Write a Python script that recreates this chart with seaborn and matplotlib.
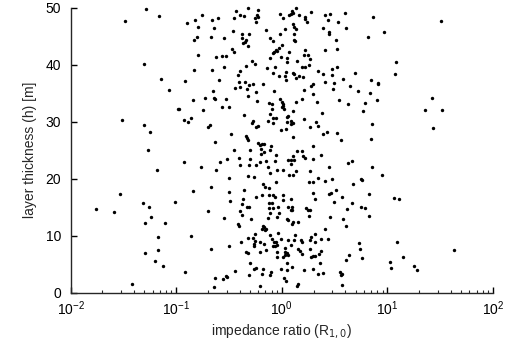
import numpy as np
import pandas as pd
import matplotlib

matplotlib.use("Agg")
import matplotlib.pyplot as plt
import matplotlib.ticker as ticker
import seaborn as sns

# values, grouped by region of the plot
# x is stored as log10 of the impedance ratio, y is layer thickness in m

# left strip (ratio < ~0.1)
lr_left = [-1.290, -1.167, -1.489, -1.306, -1.145, -1.066, -1.517, -1.309, -1.252,
           -1.268, -1.180, -1.533, -1.764, -1.593, -1.318, -1.258, -1.243, -1.293,
           -1.110, -1.176, -1.296, -1.173, -1.198, -1.129, -1.419]
h_left = [49.83, 48.54, 47.66, 40.06, 37.43, 35.62, 30.36, 29.48, 28.25,
          25.10, 21.47, 17.26, 14.63, 14.16, 15.79, 15.03, 13.28, 12.29,
          12.17, 9.77, 6.91, 7.43, 5.56, 4.74, 1.53]

# 0.1 .. 1, upper third
lr_a = [-0.321, -0.438, -0.226, -0.397, -0.356, -0.239, -0.226, -0.252, -0.760, -0.823,
        -0.665, -0.602, -0.457, -0.896, -0.242, -0.798, -0.646, -0.154, -0.466, -0.375,
        -0.311, -0.804, -0.832, -0.671, -0.548, -0.378, -0.340, -0.352, -0.371, -0.318,
        -0.109, -0.084, -0.469, -0.457, -0.078, -0.087, -0.794, -0.627, -0.570, -0.529,
        -0.112, -0.286, -0.258, -0.343, -0.551, -0.832, -0.665, -0.144, -0.068, -0.400,
        -0.419, -0.081, -0.592, -0.914, -0.406, -0.352, -0.447, -0.393, -0.308, -0.277,
        -0.182, -0.334, -0.649, -0.248, -0.078, -0.321, -0.845, -0.731, -0.640, -0.630,
        -0.529, -0.122, -0.090, -0.236]
h_a = [49.89, 49.36, 49.53, 48.77, 48.54, 48.66, 48.36, 48.25, 48.72, 47.90,
       47.90, 48.25, 48.25, 47.25, 47.55, 46.55, 46.38, 46.14, 45.85, 45.32,
       45.44, 44.80, 44.27, 44.86, 44.62, 44.62, 44.27, 43.98, 43.80, 43.34,
       44.68, 44.21, 42.69, 42.22, 42.28, 42.11, 41.70, 41.35, 41.58, 41.52,
       41.17, 40.59, 40.18, 39.83, 39.59, 39.01, 39.07, 39.36, 39.59, 38.83,
       38.13, 38.48, 37.37, 37.14, 37.02, 36.96, 35.85, 36.08, 36.43, 36.67,
       36.67, 35.73, 35.32, 35.27, 35.38, 34.50, 33.74, 34.10, 34.10, 33.92,
       33.98, 33.34, 33.16, 33.69]

# 1 .. 10, upper third
lr_b = [0.130, 0.096, 0.083, 0.067, 0.102, -0.021, 0.014, 0.165, 0.216, 0.235,
        0.222, 0.276, 0.414, 0.456, 0.437, 0.601, 0.866, 0.528, 0.105, 0.115,
        0.134, 0.026, 0.392, 0.610, 0.452, 0.449, -0.015, 0.118, 0.111, 0.124,
        0.512, 0.819, 0.001, -0.031, -0.056, -0.043, 0.216, 0.067, 0.405, 0.519,
        -0.012, 0.052, 0.212, 0.253, 0.263, 0.052, 0.140, 0.187, 0.219, 0.260,
        0.339, 0.478, 0.525, 0.386, 0.474, 0.582, 0.692, -0.024, 0.036, 0.029,
        0.108, 0.115, 0.165, 0.134, 0.197, 0.039, 0.298, 0.276, 0.206, 0.405,
        0.494, 0.642, 0.484, 0.844, 0.907, 0.910, 0.718, 0.295, -0.018, -0.002,
        0.014, 0.137, 0.193, 0.329, 0.538, 0.623, 0.834, 0.787, 0.898]
h_b = [49.97, 49.42, 48.89, 48.72, 49.01, 48.83, 48.19, 48.72, 48.31, 47.55,
       47.96, 49.30, 48.72, 48.83, 47.90, 49.13, 48.42, 47.43, 47.14, 46.55,
       46.20, 46.20, 46.38, 46.38, 45.67, 45.32, 45.38, 45.38, 44.39, 44.15,
       44.39, 44.80, 43.45, 42.87, 42.58, 42.46, 42.52, 42.28, 42.63, 42.81,
       41.35, 41.23, 41.70, 41.64, 41.00, 40.41, 40.70, 39.65, 39.59, 40.00,
       38.95, 39.24, 39.53, 38.36, 38.13, 37.49, 38.54, 37.96, 38.66, 37.96,
       38.60, 38.42, 37.96, 37.66, 37.78, 37.25, 36.61, 36.26, 35.56, 37.02,
       36.85, 36.32, 35.73, 37.31, 36.79, 36.55, 35.32, 34.80, 33.92, 33.51,
       33.16, 33.45, 33.92, 33.51, 33.75, 33.16, 35.03, 33.34, 33.80]

# 0.1 .. 1, middle third
lr_c = [-0.971, -0.981, -0.570, -0.498, -0.744, -0.359, -0.274, -0.283, -0.229, -0.242,
        -0.135, -0.081, -0.081, -0.109, -0.094, -0.930, -0.892, -0.858, -0.684, -0.697,
        -0.485, -0.340, -0.330, -0.321, -0.633, -0.229, -0.210, -0.191, -0.169, -0.198,
        -0.100, -0.109, -0.450, -0.305, -0.169, -0.195, -0.924, -0.769, -0.627, -0.583,
        -0.523, -0.406, -0.299, -0.207, -0.154, -0.393, -0.308, -0.248, -0.132, -0.113,
        -0.504, -0.321, -0.264, -0.668, -0.842, -0.498, -0.359, -0.176, -0.160, -0.119,
        -0.371, -0.245, -0.185, -0.125, -0.081]
h_c = [32.29, 32.23, 32.58, 32.52, 32.06, 31.12, 30.18, 29.77, 29.19, 29.01,
       30.18, 30.71, 29.83, 31.30, 32.23, 30.30, 29.89, 30.71, 29.48, 29.13,
       27.79, 27.44, 27.20, 26.85, 26.38, 26.21, 25.86, 26.03, 26.15, 25.27,
       25.74, 25.10, 24.98, 25.10, 24.63, 24.34, 22.93, 22.00, 21.59, 22.93,
       23.52, 23.69, 23.46, 22.93, 23.11, 22.35, 22.46, 22.35, 22.11, 21.06,
       20.13, 20.42, 20.24, 18.60, 17.90, 17.73, 18.02, 19.13, 18.49, 18.31,
       16.50, 16.73, 17.08, 17.08, 17.08]

# 1 .. 10, middle third
lr_d = [0.007, 0.004, 0.023, 0.108, -0.056, 0.061, 0.051, 0.048, 0.089, 0.086,
        0.102, 0.209, 0.383, 0.326, 0.339, 0.272, -0.008, 0.042, 0.108, 0.392,
        0.430, 0.519, 0.557, 0.768, 0.850, 0.844, 0.298, -0.056, -0.065, 0.055,
        0.083, 0.115, 0.083, 0.146, 0.190, 0.108, 0.203, 0.216, 0.291, 0.370,
        0.632, 0.667, 0.443, 0.850, -0.046, 0.007, 0.130, 0.070, 0.105, 0.272,
        -0.053, 0.342, 0.254, 0.295, 0.405, 0.471, 0.677, 0.755, 0.762, -0.062,
        0.014, 0.089, 0.291, 0.313, 0.449, 0.468, 0.516, 0.575, 0.831]
h_d = [32.82, 32.52, 32.23, 31.88, 30.59, 31.06, 30.77, 29.89, 30.13, 29.54,
       29.72, 30.48, 31.59, 29.89, 29.19, 29.13, 28.55, 28.78, 27.26, 27.90,
       28.25, 27.96, 26.79, 31.94, 29.54, 26.97, 25.80, 24.16, 23.17, 23.34,
       23.22, 23.22, 22.58, 24.86, 24.86, 24.04, 24.04, 23.69, 23.46, 24.16,
       22.82, 23.11, 22.11, 22.11, 21.53, 21.53, 21.41, 20.65, 20.65, 21.30,
       19.42, 20.18, 19.48, 19.37, 19.60, 20.01, 19.13, 19.95, 19.72, 16.73,
       17.08, 16.38, 17.55, 16.44, 17.32, 17.44, 18.02, 16.79, 17.38]

# 0.1 .. 1, lower third
lr_e = [-1.015, -0.491, -0.378, -0.334, -0.315, -0.400, -0.375, -0.703, -0.551, -0.289,
        -0.119, -0.094, -0.119, -0.084, -0.109, -0.128, -0.412, -0.406, -0.182, -0.169,
        -0.160, -0.147, -0.185, -0.251, -0.109, -0.090, -0.075, -0.318, -0.270, -0.255,
        -0.261, -0.261, -0.207, -0.169, -0.084, -0.861, -0.498, -0.668, -0.390, -0.337,
        -0.321, -0.204, -0.154, -0.299, -0.245, -0.261, -0.176, -0.103, -0.113, -0.191,
        -0.311, -0.444, -0.526, -0.517, -0.555, -0.630, -0.914, -0.640, -0.210]
h_e = [15.85, 16.15, 15.56, 15.03, 14.98, 14.39, 13.63, 14.39, 13.05, 12.99,
       15.68, 15.68, 14.80, 14.80, 14.04, 13.10, 12.11, 11.76, 11.70, 11.47,
       10.94, 11.23, 11.23, 10.36, 10.12, 9.48, 8.95, 9.54, 9.54, 9.07,
       8.60, 8.25, 8.95, 8.49, 8.25, 9.95, 8.25, 7.67, 8.84, 7.20,
       6.96, 7.20, 7.43, 5.27, 4.39, 4.16, 4.16, 3.57, 3.11, 3.28,
       3.11, 3.75, 2.99, 2.75, 2.46, 2.52, 3.57, 0.94, 1.23]

# 1 .. 10, lower third
lr_f = [0.014, 0.661, 0.493, 0.617, 0.749, 0.787, 0.825, 0.459, 0.582, 0.607,
        0.405, 0.440, -0.034, -0.027, -0.043, 0.058, 0.083, 0.099, 0.096, 0.228,
        0.247, 0.266, 0.254, 0.051, 0.061, 0.108, 0.096, 0.149, -0.034, -0.056,
        -0.065, -0.050, -0.005, 0.055, 0.121, 0.118, 0.178, 0.194, 0.266, 0.276,
        0.310, 0.317, 0.367, 0.269, -0.043, -0.043, 0.026, 0.026, 0.014, 0.029,
        0.061, 0.045, 0.089, 0.156, 0.171, 0.187, 0.279, 0.298, 0.317, 0.355,
        0.367, 0.364, -0.008, 0.045, 0.045, 0.099, 0.209, 0.298, 0.342, 0.392,
        0.550, 0.557, 0.569, 0.572, 0.017, 0.039, 0.149, 0.146, 0.613, 0.636,
        0.727, 0.740, 0.759]
h_f = [16.20, 15.79, 15.85, 14.74, 15.09, 14.92, 13.51, 13.34, 12.99, 11.70,
       11.23, 9.48, 15.03, 13.92, 13.28, 15.03, 14.57, 15.03, 14.51, 14.92,
       14.57, 14.57, 13.46, 12.93, 12.75, 12.34, 11.99, 12.46, 10.41, 8.95,
       8.19, 8.37, 9.42, 9.19, 10.06, 9.25, 9.30, 8.95, 9.25, 9.83,
       10.24, 8.84, 9.42, 7.67, 7.20, 6.32, 7.78, 7.14, 6.20, 6.61,
       6.61, 6.96, 8.37, 7.67, 7.32, 6.85, 6.26, 6.50, 6.50, 6.73,
       7.37, 5.21, 4.16, 4.04, 5.15, 4.51, 3.92, 4.10, 3.22, 3.46,
       3.69, 3.16, 3.28, 1.35, 2.52, 2.05, 1.47, 1.12, 5.79, 6.61,
       8.78, 7.67, 6.03]

# right strip (ratio > ~10)
lr_right = [0.970, 1.507, 1.084, 1.074, 1.421, 1.358, 1.522, 1.434, 0.945, 1.062,
            1.115, 1.087, 1.627, 1.150, 1.024, 1.030, 1.251, 1.279]
h_right = [45.79, 47.66, 40.53, 38.37, 34.21, 32.11, 32.11, 28.90, 20.59, 16.62,
           16.44, 8.89, 7.43, 6.20, 5.39, 4.27, 4.68, 3.92]

log_ratio = lr_left + lr_a + lr_b + lr_c + lr_d + lr_e + lr_f + lr_right
thickness = h_left + h_a + h_b + h_c + h_d + h_e + h_f + h_right

df = pd.DataFrame({"ratio": 10 ** np.array(log_ratio), "h": thickness})

# style
sns.set_style("ticks")
plt.rcParams["font.family"] = ["Liberation Sans", "DejaVu Sans"]
plt.rcParams["axes.linewidth"] = 1.0

fig = plt.figure(figsize=(5.05, 3.47), dpi=100)
ax = fig.add_axes([0.140, 0.1565, 0.836, 0.8215])

sns.scatterplot(data=df, x="ratio", y="h", color="black", s=6,
                linewidth=0, ax=ax, clip_on=False)

ax.set_xscale("log")
ax.set_xlim(1e-2, 1e2)
ax.set_ylim(0, 50)
ax.yaxis.set_major_locator(ticker.MultipleLocator(10))
ax.xaxis.set_major_locator(ticker.LogLocator(base=10, numticks=10))
ax.xaxis.set_minor_locator(ticker.LogLocator(base=10, subs=np.arange(2, 10), numticks=20))

ax.tick_params(axis="both", which="major", direction="in", length=4, width=1,
               labelsize=10, colors="black")
ax.tick_params(axis="y", which="major", pad=7)
ax.tick_params(axis="x", which="major", pad=5)
ax.tick_params(axis="x", which="minor", direction="in", length=2.5, width=0.8)

ax.set_xlabel("impedance ratio (R$_{1,0}$)", fontsize=10, labelpad=3)
ax.set_ylabel("layer thickness (h) [m]", fontsize=10, labelpad=6)

sns.despine(ax=ax)

fig.savefig("out.png", dpi=100)
